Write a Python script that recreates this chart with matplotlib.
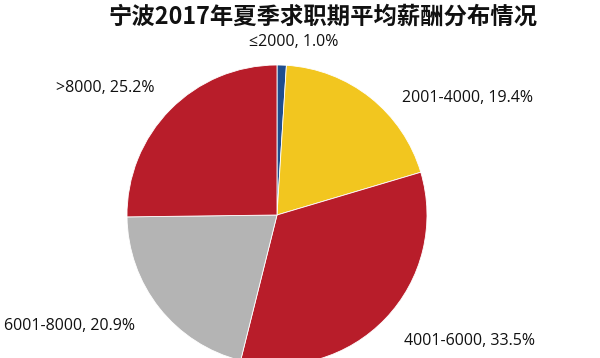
import matplotlib
matplotlib.use("Agg")
import matplotlib.pyplot as plt

plt.rcParams['font.family'] = ['Noto Sans CJK SC', 'DejaVu Sans']

title = "宁波2017年夏季求职期平均薪酬分布情况"
categories = ["≤2000", "2001-4000", "4001-6000", "6001-8000", ">8000"]
shares = [1.0, 19.4, 33.5, 20.9, 25.2]
colors = ["#1F4E8F", "#F2C61F", "#B81D2A", "#B4B4B4", "#B81D2A"]

# where each label sits (pixels from top-left), like the Excel original
label_pos = [(294, 42), (467, 98), (470, 341), (70, 326), (105, 88)]

fig = plt.figure(figsize=(6, 3.58), dpi=100)
ax = fig.add_axes([0, 0, 1, 1])

ax.pie(shares, colors=colors, startangle=90, counterclock=False,
       center=(277, 143), radius=150,
       wedgeprops=dict(edgecolor="white", linewidth=0.6))
ax.set_xlim(0, 600)
ax.set_ylim(0, 358)
ax.set_aspect("equal")
ax.axis("off")

for cat, val, (px, py) in zip(categories, shares, label_pos):
    ax.text(px, 358 - py, f"{cat}, {val:.1f}%", ha="center", va="center",
            fontsize=11.5, family=['Open Sans', 'DejaVu Sans'], color="#111111")

ax.text(323, 358 - 17, title, ha="center", va="center",
        fontsize=16.8, fontweight="bold", color="#111111")

fig.savefig("out.png", dpi=100)
